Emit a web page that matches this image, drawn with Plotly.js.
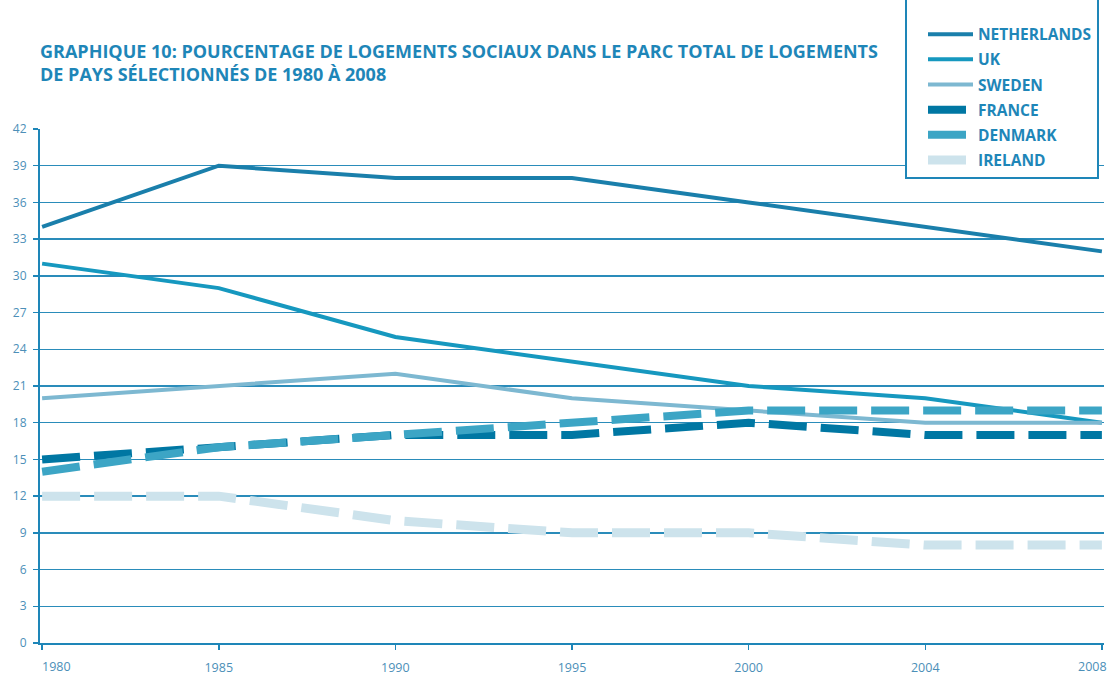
<!DOCTYPE html>
<html>
<head>
<meta charset="utf-8">
<script src="https://cdn.plot.ly/plotly-3.0.1.min.js"></script>
<style>html,body{margin:0;padding:0;background:#fff;}#chart{width:1112px;height:675px;}</style>
</head>
<body>
<div id="chart"></div>
<script>
const years = ["1980", "1985", "1990", "1995", "2000", "2004", "2008"];
const netherlands = [34, 39, 38, 38, 36, 34, 32];
const uk = [31, 29, 25, 23, 21, 20, 18];
const sweden = [20, 21, 22, 20, 19, 18, 18];
const france = [15, 16, 17, 17, 18, 17, 17];
const denmark = [14, 16, 17, 18, 19, 19, 19];
const ireland = [12, 12, 10, 9, 9, 8, 8];
const yTicks = [0, 3, 6, 9, 12, 15, 18, 21, 24, 27, 30, 33, 36, 39, 42];

const series = [
  {name: "NETHERLANDS", y: netherlands, color: "#1a7fab", width: 4, dash: "solid"},
  {name: "UK", y: uk, color: "#1698bf", width: 4, dash: "solid"},
  {name: "SWEDEN", y: sweden, color: "#7db8d1", width: 4, dash: "solid"},
  {name: "FRANCE", y: france, color: "#0077a3", width: 8, dash: "38px,14px"},
  {name: "DENMARK", y: denmark, color: "#3ca5c5", width: 8, dash: "38px,14px"},
  {name: "IRELAND", y: ireland, color: "#cde3ec", width: 9, dash: "38px,14px"}
];

const traces = series.map((s, i) => ({
  type: "scatter",
  mode: "lines",
  x: years,
  y: s.y,
  name: s.name,
  legendgroup: "g" + i,
  line: {color: s.color, width: s.width, dash: s.dash}
}));

const last = years.length - 1;
const tickFont = {family: "Open Sans, sans-serif", size: 12.5, color: "#4c8fb8"};
// inner labels are axis tick labels; the two end labels sit inside the axis ends, as in the original
const xTickText = years.map((y, i) => (i === 0 || i === last) ? "" : y);
const edgeLabels = [
  {x: 0, text: years[0], xanchor: "left", xshift: 0},
  {x: 1, text: years[last], xanchor: "right", xshift: 5}
].map(a => ({
  x: a.x, xref: "paper", y: 0, yref: "paper", yanchor: "top", yshift: -13,
  text: a.text, xanchor: a.xanchor, xshift: a.xshift, showarrow: false, font: tickFont
}));

const nb = "\u00a0";

const layout = {
  width: 1112,
  height: 675,
  paper_bgcolor: "#ffffff",
  plot_bgcolor: "#ffffff",
  margin: {l: 40, r: 8, t: 129, b: 32, autoexpand: false},
  font: {family: "Open Sans, sans-serif", color: "#1e86b8"},
  title: {
    text: "GRAPHIQUE 10: POURCENTAGE DE LOGEMENTS SOCIAUX DANS LE PARC TOTAL DE LOGEMENTS<br>DE PAYS SÉLECTIONNÉS DE 1980 À 2008",
    x: 40 / 1112,
    xanchor: "left",
    xref: "container",
    y: 1 - 58 / 675,
    yanchor: "top",
    yref: "container",
    font: {family: "Open Sans, sans-serif", size: 18, color: "#1e86b8", weight: "bold"}
  },
  xaxis: {
    type: "category",
    range: [-0.012, 6.012],
    tickvals: years,
    ticktext: xTickText,
    showgrid: false,
    zeroline: false,
    showline: true,
    linecolor: "#1e86b8",
    linewidth: 2,
    ticks: "outside",
    ticklen: 5,
    tickwidth: 1.5,
    tickcolor: "#1e86b8",
    tickfont: tickFont,
    ticklabelstandoff: 7
  },
  yaxis: {
    range: [0, 42],
    tickvals: yTicks,
    ticktext: yTicks.map(String),
    showgrid: true,
    gridcolor: "#2a8cba",
    gridwidth: 1.5,
    zeroline: false,
    showline: true,
    linecolor: "#1e86b8",
    linewidth: 2,
    ticks: "outside",
    ticklen: 5,
    tickwidth: 1.5,
    tickcolor: "#1e86b8",
    tickfont: {family: "Open Sans, sans-serif", size: 12, color: "#4c8fb8"},
    ticklabelstandoff: 4
  },
  annotations: edgeLabels,
  showlegend: true,
  legend: {
    x: (905 - 40) / 1064,
    xref: "paper",
    xanchor: "left",
    y: 1 + (129 + 13) / 514,
    yanchor: "top",
    bordercolor: "#1e86b8",
    borderwidth: 2,
    bgcolor: "#ffffff",
    tracegroupgap: 2,
    indentation: 16,
    itemwidth: 45,
    entrywidth: 180,
    title: {text: nb, font: {size: 22}},
    font: {family: "Open Sans, sans-serif", size: 15.5, color: "#1e86b8", weight: "bold"}
  }
};

Plotly.newPlot("chart", traces, layout, {displayModeBar: false, staticPlot: true});
</script>
</body>
</html>
